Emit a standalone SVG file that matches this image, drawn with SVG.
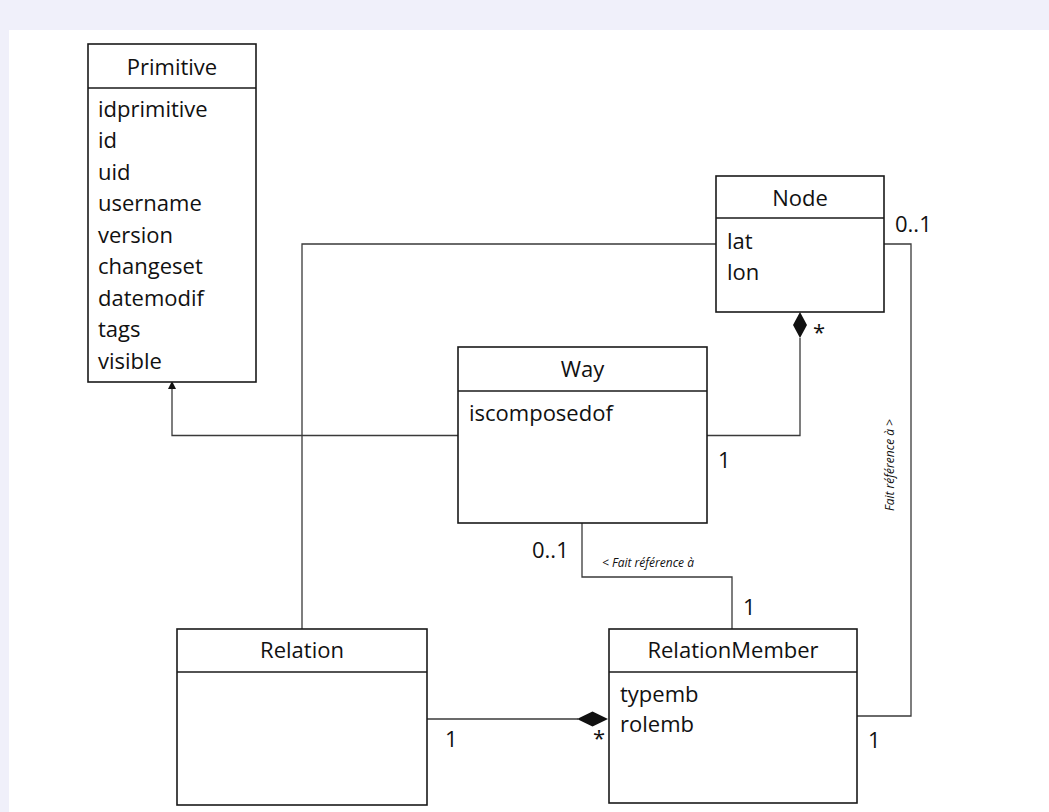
<svg xmlns="http://www.w3.org/2000/svg" width="1049" height="812" viewBox="0 0 1049 812">
<style>
.box{fill:#fff;stroke:#1a1a1a;stroke-width:1.6}
.div{stroke:#1a1a1a;stroke-width:1.6}
.con{fill:none;stroke:#3a3a3a;stroke-width:1.3}
.head{fill:#111}
text{font-family:"Open Sans","DejaVu Sans",sans-serif;font-size:22px;fill:#111}
.t{text-anchor:middle}
.it{font-style:italic;font-size:12px}
</style>
<rect x="0" y="0" width="1049" height="812" fill="#f0f0fa"/>
<rect x="9" y="30" width="1040" height="782" fill="#ffffff"/>

<g id="connectors">
<polyline class="con" points="716,244 302,244 302,629"/>
<polyline class="con" points="458,435.5 172,435.5 172,388"/>
<polygon class="head" points="172,381 168,389 176,389"/>
<polyline class="con" points="707,435.5 800,435.5 800,338"/>
<polygon class="head" points="800,312 807,325 800,338 793,325"/>
<polyline class="con" points="884,244 911,244 911,716 857,716"/>
<polyline class="con" points="582,523 582,577 732,577 732,629"/>
<line class="con" x1="427" y1="719" x2="578" y2="719"/>
<polygon class="head" points="577,719 592.5,711.5 608,719 592.5,726.5"/>
<text x="813" y="340">*</text>
<text x="718" y="468">1</text>
<text x="895" y="232">0..1</text>
<text x="532" y="558">0..1</text>
<text class="it" x="602" y="567">&lt; Fait référence à</text>
<text x="743" y="615">1</text>
<text class="it" text-anchor="middle" transform="translate(894,465) rotate(-90)">Fait référence à &gt;</text>
<text x="445" y="747">1</text>
<text x="593" y="746">*</text>
<text x="868" y="748">1</text>
</g>

<g id="Primitive">
<rect class="box" x="88" y="44" width="168" height="338"/>
<line class="div" x1="88" y1="88" x2="256" y2="88"/>
<text class="t" x="172" y="75">Primitive</text>
<text x="98" y="116.5">idprimitive</text>
<text x="98" y="148">id</text>
<text x="98" y="179.5">uid</text>
<text x="98" y="211">username</text>
<text x="98" y="242.5">version</text>
<text x="98" y="274">changeset</text>
<text x="98" y="305.5">datemodif</text>
<text x="98" y="337">tags</text>
<text x="98" y="368.5">visible</text>
</g>

<g id="Node">
<rect class="box" x="716" y="176" width="168" height="136"/>
<line class="div" x1="716" y1="218" x2="884" y2="218"/>
<text class="t" x="800" y="206">Node</text>
<text x="727" y="249">lat</text>
<text x="727" y="280">lon</text>
</g>

<g id="Way">
<rect class="box" x="458" y="347" width="249" height="176"/>
<line class="div" x1="458" y1="391" x2="707" y2="391"/>
<text class="t" x="582.5" y="377">Way</text>
<text x="469" y="421">iscomposedof</text>
</g>

<g id="Relation">
<rect class="box" x="177" y="629" width="250" height="176"/>
<line class="div" x1="177" y1="672" x2="427" y2="672"/>
<text class="t" x="302" y="658">Relation</text>
</g>

<g id="RelationMember">
<rect class="box" x="609" y="629" width="248" height="174"/>
<line class="div" x1="609" y1="672" x2="857" y2="672"/>
<text class="t" x="733" y="658">RelationMember</text>
<text x="620" y="702">typemb</text>
<text x="620" y="732">rolemb</text>
</g>
</svg>
